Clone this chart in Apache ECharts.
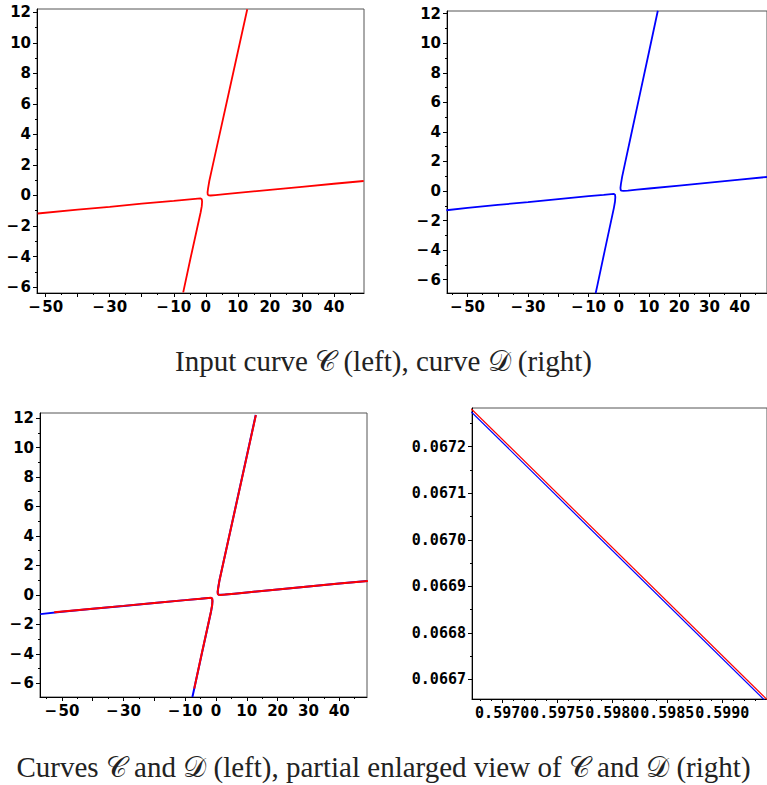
<!DOCTYPE html>
<html>
<head>
<meta charset="utf-8">
<script src="https://cdn.jsdelivr.net/npm/echarts@6/dist/echarts.min.js"></script>
<style>
  html, body { margin: 0; padding: 0; background: #fff; }
  #chart { width: 767px; height: 785px; }
</style>
</head>
<body>
<div id="chart"></div>
<script>
// curve C
const cUpper = [
  [12.95, 12.2], [10, 9.4], [7, 6.55], [4, 3.71], [2, 1.81], [1.1, 0.95],
  [0.7, 0.45], [0.55, 0.2], [0.62, 0.06], [0.9, 0.01], [1.5, 0.0],
  [3, 0.03], [6, 0.09], [10, 0.17], [20, 0.37], [30, 0.57], [40, 0.77], [49.3, 0.95]
]
const cLower = [
  [-52.5, -1.18], [-40, -0.93], [-30, -0.74], [-20, -0.54], [-10, -0.35],
  [-5, -0.25], [-2.5, -0.2], [-1.6, -0.19], [-1.25, -0.24], [-1.15, -0.4],
  [-1.25, -0.7], [-1.6, -1.1], [-2.7, -2.15], [-4.7, -4.05], [-7.05, -6.35]
]
// curve D
const dUpper = [
  [12.9, 12.2], [10, 9.42], [7, 6.57], [4, 3.72], [2, 1.82], [1.1, 0.96],
  [0.7, 0.46], [0.55, 0.21], [0.62, 0.07], [0.9, 0.02], [1.5, 0.01],
  [3, 0.03], [6, 0.09], [10, 0.17], [20, 0.37], [30, 0.57], [40, 0.77], [49, 0.95]
]
const dLower = [
  [-57, -1.3], [-50, -1.14], [-40, -0.94], [-30, -0.75], [-20, -0.55], [-10, -0.35],
  [-5, -0.26], [-2.5, -0.21], [-1.6, -0.2], [-1.25, -0.25], [-1.15, -0.41],
  [-1.25, -0.71], [-1.6, -1.12], [-2.7, -2.17], [-4.7, -4.08], [-7.1, -6.4], [-7.65, -6.92]
]
// partial enlarged view
const zoomC = [[0.59672, 0.067281], [0.59941, 0.066656]]
const zoomD = [[0.59672, 0.0672745], [0.59941, 0.0666495]]

// ticks
const bigXLabels = [-50, -30, -10, 0, 10, 20, 30, 40]
const bigXMajor = [-50, -40, -30, -20, -10, 0, 10, 20, 30, 40]
const bigXMinor = [-55, -45, -35, -25, -15, -5, 5, 15, 25, 35, 45]
const bigYLabels = [-6, -4, -2, 0, 2, 4, 6, 8, 10, 12]
const bigYMinor = [-5, -3, -1, 1, 3, 5, 7, 9, 11]
const zoomXLabels = [0.597, 0.5975, 0.598, 0.5985, 0.599]
const zoomXMinor = [0.5968, 0.5969, 0.5971, 0.5972, 0.5973, 0.5974, 0.5976, 0.5977, 0.5978,
  0.5979, 0.5981, 0.5982, 0.5983, 0.5984, 0.5986, 0.5987, 0.5988, 0.5989, 0.5991, 0.5992, 0.5993]
const zoomYLabels = [0.0667, 0.0668, 0.0669, 0.067, 0.0671, 0.0672]
const zoomYMinor = [0.06665, 0.06675, 0.06685, 0.06695, 0.06705, 0.06715, 0.06725]

const panels = [
  { left: 37, top: 9, width: 327, height: 284, x: [-52.7, 49.4], y: [-6.39, 12.22] },
  { left: 447, top: 11, width: 335, height: 282, x: [-56.8, 49], y: [-6.9, 12.18] },
  { left: 40, top: 413, width: 327, height: 284, x: [-57.1, 49], y: [-6.92, 12.34] },
  { left: 472, top: 408, width: 303, height: 291, x: [0.596726, 0.599406], y: [0.066658, 0.067283] }
]

const bigFmt = v => (v < 0 ? '\u2212\u200a' + (-v) : String(v))
const zoomFmt = v => v.toFixed(4)
const sansFont = { fontFamily: 'DejaVu Sans', fontWeight: 'bold', fontSize: 15, color: '#000' }
const monoFont = { fontFamily: 'DejaVu Sans Mono', fontWeight: 'bold', fontSize: 15, color: '#000' }

function axis(dim, gridIndex, range, ticks, len, labels, fmt, font) {
  return {
    type: 'value',
    gridIndex: gridIndex,
    position: dim === 'x' ? 'bottom' : 'left',
    min: range[0],
    max: range[1],
    axisLine: { show: !!labels, onZero: false, lineStyle: { color: '#000', width: 1 } },
    splitLine: { show: false },
    axisTick: { show: true, length: len, customValues: ticks, lineStyle: { color: '#000' } },
    axisLabel: labels
      ? Object.assign({ customValues: labels, formatter: fmt, margin: 6 }, font)
      : { show: false }
  }
}

const xAxes = []
const yAxes = []
panels.forEach((p, i) => {
  const zoomed = i === 3
  xAxes.push(axis('x', i, p.x, zoomed ? zoomXLabels : bigXMajor, 4,
    zoomed ? zoomXLabels : bigXLabels, zoomed ? zoomFmt : bigFmt, zoomed ? monoFont : sansFont))
  xAxes.push(axis('x', i, p.x, zoomed ? zoomXMinor : bigXMinor, 2))
  yAxes.push(axis('y', i, p.y, zoomed ? zoomYLabels : bigYLabels, 4,
    zoomed ? zoomYLabels : bigYLabels, zoomed ? zoomFmt : bigFmt, zoomed ? monoFont : sansFont))
  yAxes.push(axis('y', i, p.y, zoomed ? zoomYMinor : bigYMinor, 2))
})

function curve(data, panel, color, width) {
  return {
    type: 'line',
    xAxisIndex: panel * 2,
    yAxisIndex: panel * 2,
    data: data,
    symbol: 'none',
    silent: true,
    animation: false,
    lineStyle: { color: color, width: width }
  }
}

const chart = echarts.init(document.getElementById('chart'), null, { renderer: 'svg' })
chart.setOption({
  animation: false,
  grid: panels.map(p => ({
    left: p.left, top: p.top, width: p.width, height: p.height,
    show: true, borderColor: '#555', borderWidth: 1, containLabel: false
  })),
  xAxis: xAxes,
  yAxis: yAxes,
  series: [
    curve(cUpper, 0, '#ff0000', 1.8),
    curve(cLower, 0, '#ff0000', 1.8),
    curve(dUpper, 1, '#0000ff', 1.8),
    curve(dLower, 1, '#0000ff', 1.8),
    curve(dUpper, 2, '#0000ff', 2),
    curve(dLower, 2, '#0000ff', 2),
    curve(cUpper, 2, '#ff0000', 2),
    curve(cLower, 2, '#ff0000', 2),
    curve(zoomD, 3, '#0000ff', 1.2),
    curve(zoomC, 3, '#ff0000', 1.2)
  ],
  graphic: [
    {
      type: 'text', left: 'center', top: 346,
      style: { text: 'Input curve \u{1D49E} (left), curve \u{1D49F} (right)', font: '29px "Liberation Serif"', fill: '#222' }
    },
    {
      type: 'text', left: 'center', top: 752,
      style: { text: 'Curves \u{1D49E} and \u{1D49F} (left), partial enlarged view of \u{1D49E} and \u{1D49F} (right)', font: '29px "Liberation Serif"', fill: '#222' }
    }
  ]
})
</script>
</body>
</html>
